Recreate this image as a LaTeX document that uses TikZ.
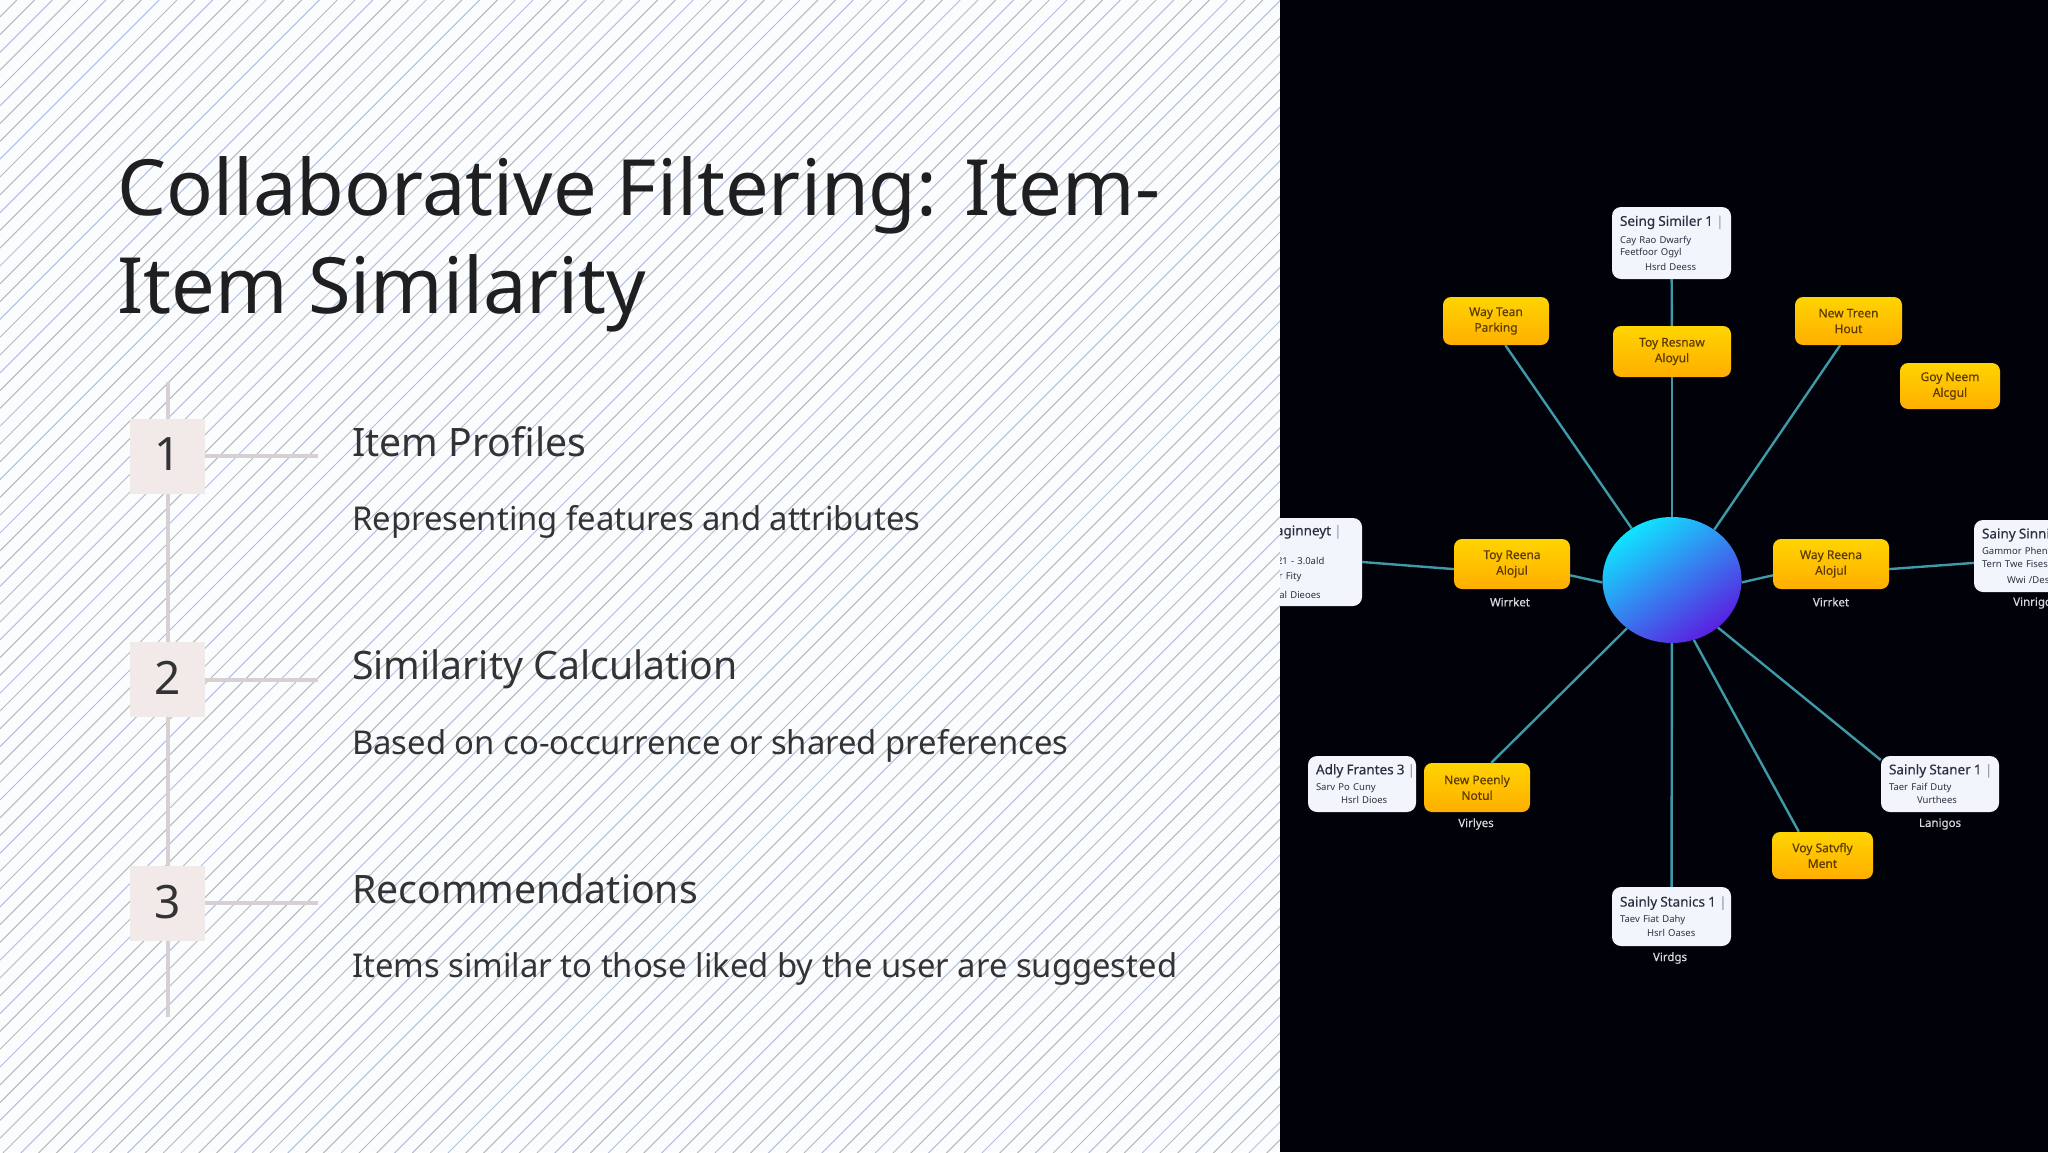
\documentclass[tikz,border=0pt]{standalone}
\usepackage{fontspec}
\setmainfont{Noto Sans}
\newfontfamily\blurfont{Noto Sans}[FakeBold=0.35]
\usetikzlibrary{shapes.geometric}

\definecolor{paper}{HTML}{FBFCFE}
\definecolor{hatchgray}{HTML}{B8B8C0}
\definecolor{hatchblue}{HTML}{B0BFE0}
\definecolor{panel}{HTML}{01010A}
\definecolor{titleink}{HTML}{1F1F21}
\definecolor{bodyink}{HTML}{333336}
\definecolor{stepfill}{HTML}{F2E9E9}
\definecolor{stepline}{HTML}{D5D0D1}
\definecolor{linkteal}{HTML}{3F9AA8}
\definecolor{cardfill}{HTML}{F3F5FC}
\definecolor{cardink}{HTML}{2B3040}
\definecolor{cardbar}{HTML}{9AA0AE}
\definecolor{goldtop}{HTML}{FFD400}
\definecolor{goldbot}{HTML}{FFAE00}
\definecolor{goldink}{HTML}{5C3B00}
\definecolor{hubtop}{HTML}{10E4FF}
\definecolor{hubmid}{HTML}{0F82F5}
\definecolor{hubbot}{HTML}{5A1FE0}

\newcommand{\cardhead}[1]{{\blurfont\fontsize{13.5}{15}\selectfont #1}}
\newcommand{\cardtick}{\rlap{\ \textcolor{cardbar}{|}}}

\tikzset{
  stepbox/.style={fill=stepfill, minimum size=75pt, inner sep=0pt, font=\fontsize{46}{50}\selectfont, text=bodyink},
  stepline/.style={draw=stepline, line width=4pt},
  link/.style={draw=linkteal, line width=2.4pt},
  goldbox/.style={rounded corners=8pt, top color=goldtop, bottom color=goldbot, inner sep=0pt, align=center,
    text=goldink, font=\blurfont\fontsize{12}{15.7}\selectfont},
  cardbox/.style={rounded corners=9pt, fill=cardfill, inner sep=0pt, align=left, text=cardink,
    font=\fontsize{9.5}{12.5}\selectfont},
  tag/.style={text=white!85!black, font=\blurfont\fontsize{11.5}{13}\selectfont, inner sep=0pt}
}

\begin{document}
\begin{tikzpicture}[x=1pt, y=-1pt]
  \useasboundingbox (0,0) rectangle (2048,1152);

  % left half, hatched
  \fill[paper] (0,0) rectangle (1280,1152);
  \begin{scope}
    \clip (0,0) rectangle (1280,1152);
    \foreach \k in {1,...,137} {
      \pgfmathtruncatemacro{\rem}{mod(\k,3)}
      \ifnum\rem=0
        \draw[hatchblue, line width=1pt] ({\k*17.8-1},0) -- (0,{\k*17.8-1});
      \else
        \draw[hatchgray, line width=1pt] ({\k*17.8-1},0) -- (0,{\k*17.8-1});
      \fi
    }
  \end{scope}

  \node[anchor=base west, inner sep=0pt, text=titleink, font=\fontsize{77.6}{98}\selectfont] (titleone) at (117,215) {Collaborative Filtering: Item-};
  \node[anchor=base west, inner sep=0pt, text=titleink, font=\fontsize{77.6}{98}\selectfont] (titletwo) at (117,313) {Item Similarity};

  \coordinate (spinetop) at (167.5,382);
  \coordinate (spinebot) at (167.5,1017);
  \draw[stepline] (spinetop) -- (spinebot);

  \foreach \n/\y/\head/\body in {1/456/Item Profiles/Representing features and attributes,
      2/679.5/Similarity Calculation/Based on co-occurrence or shared preferences,
      3/903/Recommendations/Items similar to those liked by the user are suggested} {
    \node[stepbox] (box\n) at (167.5,\y) {\raisebox{3pt}{\n}};
    \coordinate (tick\n) at (318,\y);
    \draw[stepline] (box\n) -- (tick\n);
    \node[anchor=base west, inner sep=0pt, text=bodyink, font=\fontsize{39.2}{48}\selectfont] (head\n) at (352,\y) {\head};
    \node[anchor=base west, inner sep=0pt, text=bodyink, font=\fontsize{32.8}{40}\selectfont] (body\n) at (352,\y+74.5) {\body};
  }

  % right half, the graph
  \fill[panel] (1280,0) rectangle (2048,1152);
  \begin{scope}
    \clip (1280,0) rectangle (2048,1152);

    \node[ellipse, minimum width=139pt, minimum height=126pt, inner sep=0pt, shading=axis,
      top color=hubtop, middle color=hubmid, bottom color=hubbot, shading angle=35] (hub) at (1672,580) {};

    \node[goldbox, minimum width=118pt, minimum height=51pt] (toyresnaw) at (1672,351.5) {Toy Resnaw\\Aloyul};
    \node[goldbox, minimum width=106pt, minimum height=48pt] (waytean) at (1496,321) {Way Tean\\Parking};
    \node[goldbox, minimum width=107pt, minimum height=48pt] (newtreen) at (1848.5,321) {New Treen\\Hout};
    \node[goldbox, minimum width=100pt, minimum height=46pt] (goyneem) at (1950,386) {Goy Neem\\Alcgul};
    \node[goldbox, minimum width=116pt, minimum height=50pt] (toyreena) at (1512,564) {Toy Reena\\Alojul};
    \node[goldbox, minimum width=116pt, minimum height=50pt] (wayreena) at (1831,564) {Way Reena\\Alojul};
    \node[goldbox, minimum width=106pt, minimum height=49pt] (newpeenly) at (1477,787.5) {New Peenly\\Notul};
    \node[goldbox, minimum width=101pt, minimum height=47pt] (voysatvfly) at (1822.5,855.5) {Voy Satvfly\\Ment};

    \node[cardbox, minimum width=119pt, minimum height=72pt, text width=103pt] (seingsimiler) at (1671.5,243)
      {\cardhead{Seing Similer 1\cardtick}\\[5pt]Cay Rao Dwarfy\\Feetfoor Ogyl\\[2pt]\hspace*{25pt}Hsrd Deess};
    \node[cardbox, minimum width=104pt, minimum height=88pt, text width=83pt] (saginneyt) at (1310,562)
      {\cardhead{Saginneyt\cardtick}\\[17pt]C.21 - 3.0ald\\[2pt]ver Fity\\[7pt]Veal Dieoes};
    \node[cardbox, minimum width=112pt, minimum height=72pt, text width=96pt] (sainysinni) at (2030,556)
      {\cardhead{Sainy Sinni}\\[3.5pt]Gammor Phenlar\\[1pt]Tern Twe Fises\\[3pt]\hspace*{25pt}Wwi /Dest};
    \node[cardbox, minimum width=108pt, minimum height=56pt, text width=92pt] (adlyfrantes) at (1362,784)
      {\cardhead{Adly Frantes 3\cardtick}\\[3.5pt]Sarv Po Cuny\\[1pt]\hspace*{25pt}Hsrl Dioes};
    \node[cardbox, minimum width=118pt, minimum height=56pt, text width=102pt] (sainlystaner) at (1940,784)
      {\cardhead{Sainly Staner 1\cardtick}\\[3.5pt]Taer Faif Duty\\[1pt]\hspace*{28pt}Vurthees};
    \node[cardbox, minimum width=119pt, minimum height=59pt, text width=103pt] (sainlystanics) at (1671.5,916.5)
      {\cardhead{Sainly Stanics 1\cardtick}\\[3.5pt]Taev Fiat Dahy\\[1.5pt]\hspace*{27pt}Hsrl Oases};

    \node[tag] (tagwirket) at (1510,602) {Wirrket};
    \node[tag] (tagvirket) at (1831,602) {Virrket};
    \node[tag, anchor=west] (tagvinrigos) at (2013,603) {Vinrigos};
    \node[tag] (tagvirlyes) at (1476,824) {Virlyes};
    \node[tag] (taglanigos) at (1940,824) {Lanigos};
    \node[tag] (tagvirdgs) at (1670,958) {Virdgs};

    \draw[link] (seingsimiler) -- (toyresnaw);
    \draw[link] (toyresnaw) -- (hub);
    \draw[link] (hub.128) -- (waytean.-69);
    \draw[link] (hub.50) -- (newtreen.-109);
    \draw[link] (saginneyt.east) -- (toyreena.185);
    \draw[link] (toyreena.-11) -- (hub.182);
    \draw[link] (hub.-2) -- (wayreena.191);
    \draw[link] (wayreena.-5) -- (sainysinni.187);
    \draw[link] (hub.227) -- (newpeenly.60);
    \draw[link] (hub) -- (sainlystanics);
    \draw[link] (hub.-70) -- (voysatvfly.135);
    \draw[link] (hub.-46) -- (sainlystaner.158);
  \end{scope}
\end{tikzpicture}
\end{document}
